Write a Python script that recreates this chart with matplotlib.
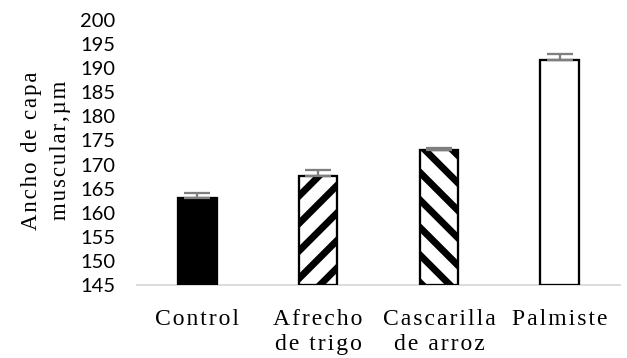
import matplotlib
matplotlib.use("Agg")
from matplotlib import pyplot as plt

# data
categories = ["Control", "Afrecho\nde trigo", "Cascarilla\nde arroz", "Palmiste"]
values = [163.0, 167.7, 173.0, 191.8]
errors = [1.1, 1.1, 0.4, 1.1]
y_ticks = [145, 150, 155, 160, 165, 170, 175, 180, 185, 190, 195, 200]

fills = ["black", "white", "white", "white"]
hatches = [None, "//", "\\\\", None]

DPI = 165
plt.rcParams['hatch.linewidth'] = 3.0
plt.rcParams['hatch.color'] = 'black'


# word-like loose letter spacing
def spaced(s, sep):
    return "\n".join(sep.join(line) for line in s.split("\n"))


fig = plt.figure(figsize=(627 / DPI, 358 / DPI), dpi=DPI)
ax = fig.add_axes([0.2185, 0.204, 0.989 - 0.2185, 0.944 - 0.204])

x = list(range(len(categories)))
bars = ax.bar(x, [v - 145 for v in values], bottom=145, width=0.32,
              color=fills, edgecolor="black", linewidth=1.0, zorder=3)
for b, h in zip(bars, hatches):
    if h:
        b.set_hatch(h)

ax.errorbar(x, values, yerr=[[0] * len(errors), errors], fmt="none",
            ecolor="#7f7f7f", elinewidth=1.0, capsize=5.5, capthick=1.0, zorder=4)

ax.set_xlim(-0.5, 3.5)
ax.set_ylim(145, 200)
ax.set_yticks(y_ticks)
ax.set_yticklabels([str(t) for t in y_ticks], family="Lato", fontsize=8.8)
ax.set_xticks(x)
ax.set_xticklabels([spaced(c, "\u200a") for c in categories],
                   family=["Liberation Serif", "DejaVu Serif"], fontsize=10.3,
                   linespacing=1.25, va="top")

ax.tick_params(axis="y", length=0, pad=9.5)
ax.tick_params(axis="x", length=0, pad=10.5)

for s in ["left", "right", "top"]:
    ax.spines[s].set_visible(False)
ax.spines["bottom"].set_color("#d9d9d9")
ax.spines["bottom"].set_linewidth(0.8)

fig.text(0.074, 0.58, spaced("Ancho de capa\nmuscular,\u00b5m", "\u200a"),
         rotation=90, ha="center", va="center",
         family=["Liberation Serif", "DejaVu Serif"], fontsize=10.0,
         linespacing=1.5, multialignment="center")

fig.savefig("out.png", dpi=DPI, facecolor="white")
